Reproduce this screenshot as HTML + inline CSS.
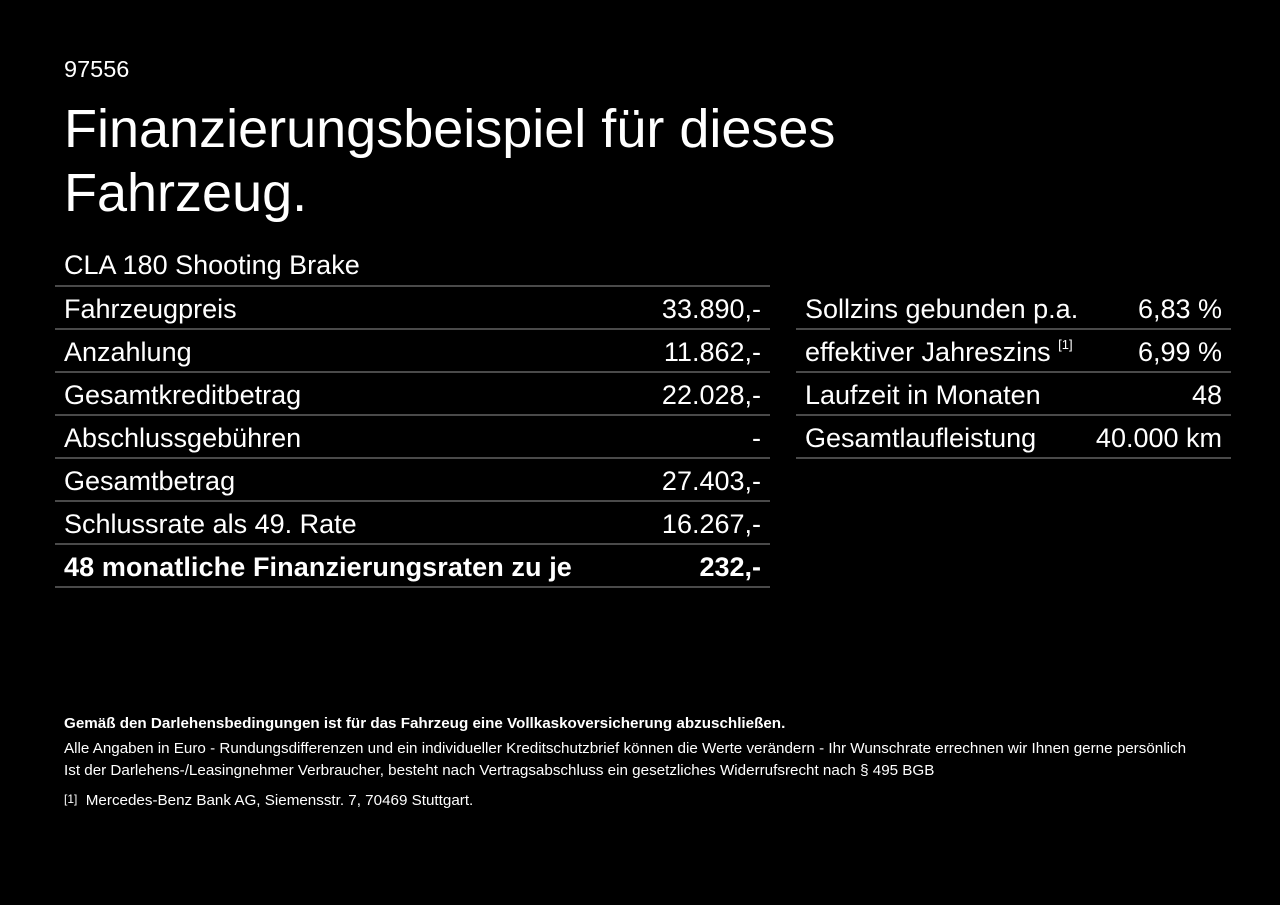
<!DOCTYPE html>
<html><head><meta charset="utf-8"><style>
*{margin:0;padding:0;box-sizing:border-box}
body{width:1280px;height:905px;background:#000;color:#fff;font-family:"Liberation Sans",Arial,sans-serif;position:relative;overflow:hidden}
.a{position:absolute;white-space:nowrap}
.row{position:absolute;height:43px;border-bottom:2px solid #4a4a4a;font-size:27px;line-height:44px}
.row .l{position:absolute;left:9px;top:0}
.row .r{position:absolute;right:9px;top:0}
sup{font-size:13px;vertical-align:top;line-height:30px}
.s{font-size:15.2px;left:64px}
</style></head><body>
<div class="a" style="left:64px;top:56px;font-size:23.5px">97556</div>
<div class="a" style="left:64px;top:97px;font-size:54px;line-height:64px">Finanzierungsbeispiel für dieses<br>Fahrzeug.</div>
<div class="a" style="left:64px;top:250px;font-size:27px">CLA 180 Shooting Brake</div>
<div style="position:absolute;left:55px;top:285px;width:715px;height:2px;background:#4a4a4a"></div>
<div class="row" style="left:55px;width:715px;top:287px"><span class="l">Fahrzeugpreis</span><span class="r">33.890,-</span></div>
<div class="row" style="left:55px;width:715px;top:330px"><span class="l">Anzahlung</span><span class="r">11.862,-</span></div>
<div class="row" style="left:55px;width:715px;top:373px"><span class="l">Gesamtkreditbetrag</span><span class="r">22.028,-</span></div>
<div class="row" style="left:55px;width:715px;top:416px"><span class="l">Abschlussgebühren</span><span class="r">-</span></div>
<div class="row" style="left:55px;width:715px;top:459px"><span class="l">Gesamtbetrag</span><span class="r">27.403,-</span></div>
<div class="row" style="left:55px;width:715px;top:502px"><span class="l">Schlussrate als 49. Rate</span><span class="r">16.267,-</span></div>
<div class="row" style="left:55px;width:715px;top:545px;font-weight:bold;font-size:27px"><span class="l" style="letter-spacing:0.1px">48 monatliche Finanzierungsraten zu je</span><span class="r">232,-</span></div>
<div class="row" style="left:796px;width:435px;top:287px"><span class="l">Sollzins gebunden p.a.</span><span class="r">6,83 %</span></div>
<div class="row" style="left:796px;width:435px;top:330px"><span class="l">effektiver Jahreszins <sup>[1]</sup></span><span class="r">6,99 %</span></div>
<div class="row" style="left:796px;width:435px;top:373px"><span class="l">Laufzeit in Monaten</span><span class="r">48</span></div>
<div class="row" style="left:796px;width:435px;top:416px"><span class="l">Gesamtlaufleistung</span><span class="r">40.000 km</span></div>
<div class="a s" style="top:715px;font-weight:bold">Gemäß den Darlehensbedingungen ist für das Fahrzeug eine Vollkaskoversicherung abzuschließen.</div>
<div class="a s" style="top:740px">Alle Angaben in Euro - Rundungsdifferenzen und ein individueller Kreditschutzbrief können die Werte verändern - Ihr Wunschrate errechnen wir Ihnen gerne persönlich</div>
<div class="a s" style="top:762px">Ist der Darlehens-/Leasingnehmer Verbraucher, besteht nach Vertragsabschluss ein gesetzliches Widerrufsrecht nach § 495 BGB</div>
<div class="a s" style="top:792px"><span style="font-size:12px;vertical-align:top">[1]</span>&nbsp; Mercedes-Benz Bank AG, Siemensstr. 7, 70469 Stuttgart.</div>
</body></html>
